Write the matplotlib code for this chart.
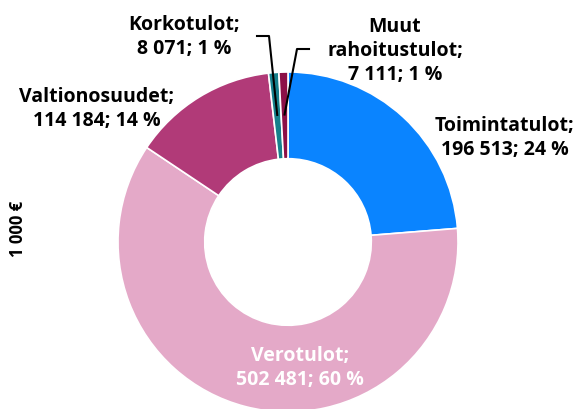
import matplotlib.pyplot as plt
import numpy as np

plt.rcParams['font.family'] = ['Open Sans', 'DejaVu Sans']

labels = ['Toimintatulot', 'Verotulot', 'Valtionosuudet', 'Korkotulot', 'Muut\nrahoitustulot']
values = [196513, 502481, 114184, 8071, 7111]
value_txt = ['196 513', '502 481', '114 184', '8 071', '7 111']
pct_txt = ['24 %', '60 %', '14 %', '1 %', '1 %']
colors = ['#0A84FF', '#E4A9C8', '#B13A78', '#16808C', '#8C1047']

fig = plt.figure(figsize=(5.8, 4.1), dpi=100)
ax = fig.add_axes([(288 - 170) / 580, (410 - 243 - 170) / 410, 340 / 580, 340 / 410])

wedges, _ = ax.pie(values, colors=colors, startangle=90, counterclock=False,
                   radius=1.0, wedgeprops=dict(width=0.51, edgecolor='white', linewidth=1.2))
ax.set_xlim(-1, 1)
ax.set_ylim(-1, 1)
ax.set_aspect('equal')


def px(x, y):
    # pixel coords of the reference -> data coords
    return (x - 288) / 170, (243 - y) / 170


def mid_point(w, r):
    a = np.deg2rad((w.theta1 + w.theta2) / 2)
    return r * np.cos(a), r * np.sin(a)


fs = 14
# text positions
pos = {0: px(505, 138), 1: px(300, 368), 2: px(97, 109), 3: px(184, 37), 4: px(395, 51)}
for i, lab in enumerate(labels):
    x, y = pos[i]
    c = 'white' if i == 1 else 'black'
    txt = lab + ';\n' + value_txt[i] + '; ' + pct_txt[i]
    ax.text(x, y, txt, ha='center', va='center', fontsize=fs, fontweight='bold',
            color=c, linespacing=1.3)

# leader lines for the tiny slices
x0, y0 = px(257, 37)
x1, _ = px(269, 37)
xe, ye = mid_point(wedges[3], 0.75)
ax.plot([x0, x1, xe], [y0, y0, ye], color='black', lw=1.5, clip_on=False)

x0, y0 = px(309, 50)
x1, _ = px(297, 50)
xe, ye = mid_point(wedges[4], 0.75)
ax.plot([x0, x1, xe], [y0, y0, ye], color='black', lw=1.5, clip_on=False)

fig.text(18 / 580, 1 - 229 / 410, '1 000 €', rotation=90, ha='center', va='center',
         fontsize=12, fontweight='bold')

fig.savefig('out.png', dpi=100)
